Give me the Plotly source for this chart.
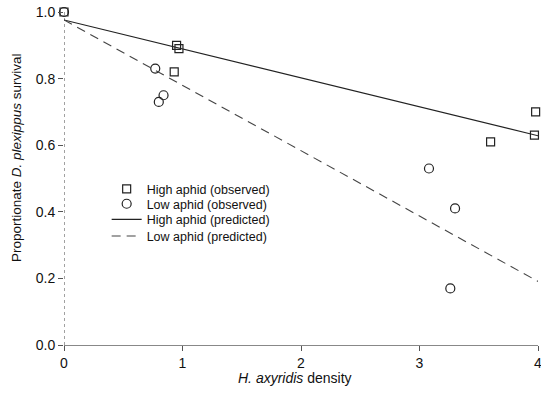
import plotly.graph_objects as go

high_x = [0, 0.95, 0.97, 0.93, 3.60, 3.98, 3.97]
high_y = [1.0, 0.90, 0.89, 0.82, 0.61, 0.70, 0.63]
low_x = [0, 0.77, 0.80, 0.84, 3.08, 3.30, 3.26]
low_y = [1.0, 0.83, 0.73, 0.75, 0.53, 0.41, 0.17]
pred_x = [0, 4.02]
high_pred = [0.976, 0.976 - 0.3475 * 4.02 / 4]
low_pred = [0.976, 0.976 - 0.785 * 4.02 / 4]
x_ticks = [0, 1, 2, 3, 4]
y_ticks = [0, 0.2, 0.4, 0.6, 0.8, 1.0]

font = "Liberation Sans, Arial, sans-serif"
fig = go.Figure()
fig.add_trace(go.Scatter(x=high_x, y=high_y, mode="markers", name="High aphid (observed)",
                         marker=dict(symbol="square-open", size=8, color="#222", line=dict(width=1.2)),
                         cliponaxis=False, legend="legend"))
fig.add_trace(go.Scatter(x=low_x, y=low_y, mode="markers", name="Low aphid (observed)",
                         marker=dict(symbol="circle-open", size=9, color="#222", line=dict(width=1.2)),
                         cliponaxis=False, legend="legend2"))
fig.add_trace(go.Scatter(x=pred_x, y=high_pred, mode="lines", name="High aphid (predicted)",
                         line=dict(color="#222", width=1.1), cliponaxis=False, legend="legend3"))
fig.add_trace(go.Scatter(x=pred_x, y=low_pred, mode="lines", name="Low aphid (predicted)",
                         line=dict(color="#444", width=1.1, dash="9px,6px"), cliponaxis=False,
                         legend="legend4"))

fig.add_shape(type="line", xref="x", yref="paper", x0=0, x1=0, y0=0, y1=1,
              line=dict(color="#444", width=1, dash="dot"))


def leg(y):
    return dict(x=0.09, y=y, xanchor="left", yanchor="middle", bgcolor="rgba(0,0,0,0)",
                font=dict(size=12.5), tracegroupgap=0, itemwidth=30, borderwidth=0)


fig.add_annotation(text="<i>H. axyridis</i> density", xref="paper", yref="paper",
                   x=0.487, y=-0.099, xanchor="center", yanchor="middle", showarrow=False,
                   font=dict(size=14))
fig.add_annotation(text="Proportionate <i>D. plexippus</i> survival", xref="paper", yref="paper",
                   x=-0.099, y=0.5616, xanchor="center", yanchor="middle", showarrow=False,
                   textangle=-90, font=dict(size=13.5))

fig.update_layout(
    width=541, height=403,
    margin=dict(l=64, r=3, t=12, b=58),
    plot_bgcolor="white", paper_bgcolor="white",
    font=dict(family=font, size=14, color="#111"),
    showlegend=True,
    legend=leg(0.468), legend2=leg(0.423), legend3=leg(0.376), legend4=leg(0.326),
    xaxis=dict(range=[0, 4], tickvals=x_ticks, showgrid=False, zeroline=False,
               showline=True, linecolor="#888", linewidth=1, ticks="outside", ticklen=5,
               tickcolor="#555", automargin=False, ticklabeloverflow="allow"),
    yaxis=dict(range=[0, 1], tickvals=y_ticks, tickformat=".1f",
               showgrid=False, zeroline=False, showline=False, ticks="outside", ticklen=5,
               tickcolor="#555", automargin=False, ticklabeloverflow="allow"),
)
fig.write_html("out.html", config={"displayModeBar": False},
               post_script="document.body.style.margin='0';")
